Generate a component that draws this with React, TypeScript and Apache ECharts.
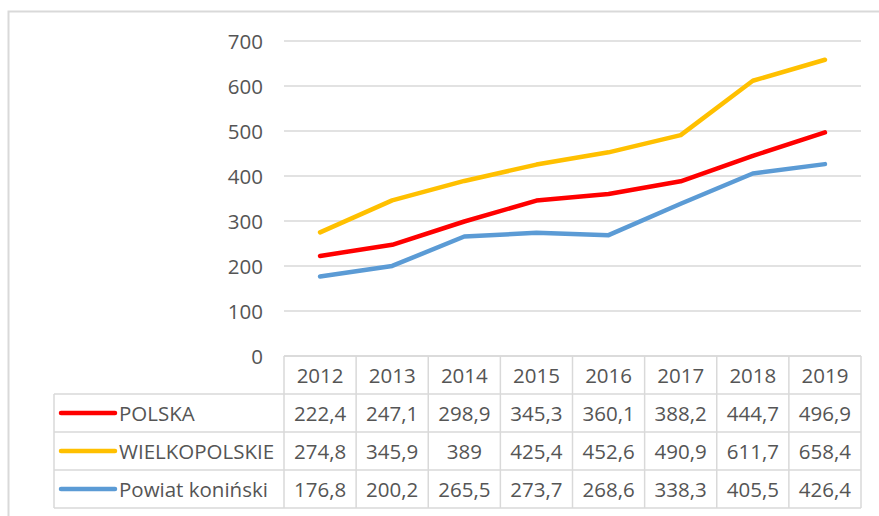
import React, { useEffect, useRef } from "react";
import * as echarts from "echarts";

const years = ["2012", "2013", "2014", "2015", "2016", "2017", "2018", "2019"];
const polska = [222.4, 247.1, 298.9, 345.3, 360.1, 388.2, 444.7, 496.9];
const wielkopolskie = [274.8, 345.9, 389, 425.4, 452.6, 490.9, 611.7, 658.4];
const powiat = [176.8, 200.2, 265.5, 273.7, 268.6, 338.3, 405.5, 426.4];
const seriesNames = ["POLSKA", "WIELKOPOLSKIE", "Powiat koniński"];
const seriesColors = ["#ff0000", "#ffc000", "#5b9bd5"];
const yMin = 0;
const yMax = 700;
const yInterval = 100;

const W = 879;
const H = 516;
const GRID_LEFT = 284;
const GRID_RIGHT = 18;
const GRID_TOP = 41;
const GRID_BOTTOM = 160;
const ROW_H = 38;
const LEGEND_LEFT = 54;
const FONT = "'Open Sans', 'Liberation Sans', sans-serif";
const FONT_SIZE = 20.5;
const TEXT_COLOR = "#555555";
const BORDER = "#d9d9d9";

const fmt = (v: number) => String(v).replace(".", ",");

export default function App() {
  const ref = useRef<HTMLDivElement>(null);

  useEffect(() => {
    document.body.style.margin = "0";
    if (!ref.current) return;
    const chart = echarts.init(ref.current, undefined, { renderer: "svg" });
    const allSeries = [polska, wielkopolskie, powiat];

    chart.setOption({
      animation: false,
      backgroundColor: "#ffffff",
      grid: { left: GRID_LEFT, right: GRID_RIGHT, top: GRID_TOP, bottom: GRID_BOTTOM, containLabel: false },
      xAxis: {
        type: "category",
        data: years,
        boundaryGap: true,
        axisLine: { show: false },
        axisTick: { show: false },
        axisLabel: { show: false },
      },
      yAxis: {
        type: "value",
        min: yMin,
        max: yMax,
        interval: yInterval,
        axisLine: { show: false },
        axisTick: { show: false },
        axisLabel: { fontSize: FONT_SIZE, color: TEXT_COLOR, fontFamily: FONT, margin: 21 },
        splitLine: { lineStyle: { color: BORDER, width: 1.5 } },
      },
      series: allSeries.map((d, i) => ({
        name: seriesNames[i],
        type: "line",
        data: d,
        symbol: "none",
        lineStyle: { color: seriesColors[i], width: 4.5, cap: "round", join: "round" },
        itemStyle: { color: seriesColors[i] },
      })),
    });

    const c0 = chart.convertToPixel({ xAxisIndex: 0 }, 0) as number;
    const c1 = chart.convertToPixel({ xAxisIndex: 0 }, 1) as number;
    const colW = c1 - c0;
    const tableLeft = c0 - colW / 2;
    const tableRight = tableLeft + colW * years.length;
    const tableTop = H - GRID_BOTTOM;
    const nRows = 1 + allSeries.length;
    const tableBottom = tableTop + ROW_H * nRows;

    const graphics: any[] = [];
    const ln = (x1: number, y1: number, x2: number, y2: number) =>
      graphics.push({
        type: "line",
        silent: true,
        shape: { x1, y1, x2, y2 },
        style: { stroke: BORDER, lineWidth: 1.5 },
      });
    const txt = (text: string, x: number, y: number, align: string) =>
      graphics.push({
        type: "text",
        silent: true,
        x,
        y,
        style: {
          text,
          x: 0,
          y: 0,
          align,
          verticalAlign: "middle",
          font: `${FONT_SIZE}px ${FONT}`,
          fill: TEXT_COLOR,
        },
      });

    // outer chart border
    graphics.push({
      type: "rect",
      silent: true,
      shape: { x: 8.5, y: 11.5, width: 1000, height: 1000 },
      style: { fill: "none", stroke: BORDER, lineWidth: 2 },
    });

    // horizontal table lines
    ln(tableLeft, tableTop, tableRight, tableTop);
    for (let r = 1; r <= nRows; r++) {
      const y = tableTop + r * ROW_H;
      ln(LEGEND_LEFT, y, tableRight, y);
    }
    // vertical table lines
    ln(LEGEND_LEFT, tableTop + ROW_H, LEGEND_LEFT, tableBottom);
    for (let k = 0; k <= years.length; k++) {
      const x = tableLeft + k * colW;
      ln(x, tableTop, x, tableBottom);
    }

    // header years
    years.forEach((y, k) => {
      const cx = chart.convertToPixel({ xAxisIndex: 0 }, k) as number;
      txt(y, cx, tableTop + ROW_H / 2, "center");
    });

    // rows
    allSeries.forEach((d, i) => {
      const cy = tableTop + ROW_H * (i + 1) + ROW_H / 2;
      graphics.push({
        type: "line",
        silent: true,
        shape: { x1: 61, y1: cy, x2: 115, y2: cy },
        style: { stroke: seriesColors[i], lineWidth: 4.5, lineCap: "round" },
      });
      txt(seriesNames[i], 119, cy, "left");
      d.forEach((v, k) => {
        const cx = chart.convertToPixel({ xAxisIndex: 0 }, k) as number;
        txt(fmt(v), cx, cy, "center");
      });
    });

    chart.setOption({ graphic: graphics });

    return () => chart.dispose();
  }, []);

  return <div ref={ref} style={{ width: W, height: H }} />;
}
